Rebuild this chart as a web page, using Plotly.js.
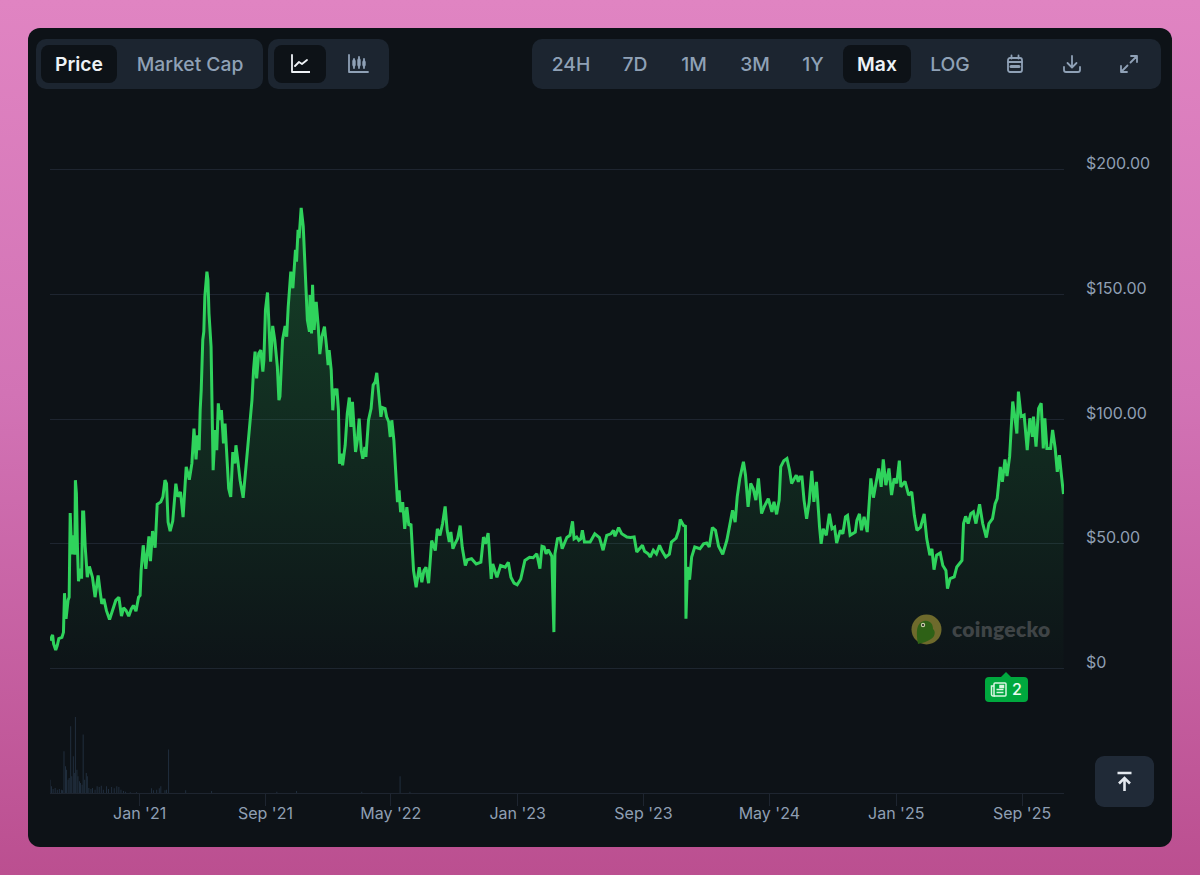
<!DOCTYPE html>
<html><head><meta charset="utf-8">
<script src="https://cdn.plot.ly/plotly-3.0.1.min.js"></script>
<style>
html,body{margin:0;padding:0;width:1200px;height:875px;overflow:hidden;font-family:Inter,"Noto Sans",sans-serif}
body{background:linear-gradient(180deg,#e084c2 0%,#d273b5 45%,#bb4f90 100%);position:relative}
#card{position:absolute;left:28px;top:28px;width:1144px;height:819px;background:#0d1217;border-radius:12px}
#plot{position:absolute;left:0;top:0;width:1200px;height:875px}
.grp{position:absolute;top:39px;height:50px;background:#1c2530;border-radius:10px}
.on{position:absolute;top:45px;height:38px;background:#0d1217;border-radius:8px}
.t{position:absolute;top:39px;height:50px;line-height:50px;font-size:19.3px;font-weight:500;color:#8fa1b6;transform:translateX(-50%);white-space:nowrap}
.t.w{color:#eef2f6;font-weight:600}
svg.i{position:absolute;fill:none;stroke:#8fa1b6;stroke-width:1.8;stroke-linecap:round;stroke-linejoin:round}
#mark{position:absolute;left:952px;top:616px;font:800 21px Lato,Inter,sans-serif;color:#3f4446;letter-spacing:.3px}
#badge{position:absolute;left:985px;top:677px;width:43px;height:25px;background:#00a83e;border-radius:4px}
#top{position:absolute;left:1095px;top:756px;width:59px;height:51px;background:#202a37;border-radius:9px}
</style></head><body>
<div id="card"></div>
<div id="plot"></div>

<div class="grp" style="left:36px;width:227px"></div>
<div class="on" style="left:41px;width:76px"></div>
<div class="t w" style="left:79px">Price</div>
<div class="t" style="left:190px">Market Cap</div>
<div class="grp" style="left:268px;width:121px"></div>
<div class="on" style="left:274px;width:52px"></div>
<svg class="i" style="left:290px;top:54px;stroke:#eef2f6" width="20" height="20" viewBox="0 0 20 20"><path d="M2 1v17h18M5 12l4-4 3 2 5-4"/></svg>
<svg class="i" style="left:347px;top:54px" width="22" height="20" viewBox="0 0 22 20"><path d="M2 1v17h19M7 5v9M12 3v11M17 5v9"/><path d="M7 7v4M12 6v5M17 8v3" stroke-width="3.4"/></svg>
<div class="grp" style="left:532px;width:629px"></div>
<div class="on" style="left:843px;width:68px"></div>
<div class="t" style="left:571px">24H</div>
<div class="t" style="left:635px">7D</div>
<div class="t" style="left:694px">1M</div>
<div class="t" style="left:755px">3M</div>
<div class="t" style="left:813px">1Y</div>
<div class="t w" style="left:877px">Max</div>
<div class="t" style="left:950px">LOG</div>
<svg class="i" style="left:1005px;top:54px" width="20" height="20" viewBox="0 0 20 20"><rect x="3" y="4" width="14" height="14" rx="2"/><path d="M6.5 1.5v3M13.5 1.5v3M3 8h14"/><path d="M6 12.5h8" stroke-width="3"/></svg>
<svg class="i" style="left:1062px;top:54px" width="20" height="20" viewBox="0 0 20 20"><path d="M10 2v11M5.5 9l4.5 4.5L14.500 9M2 13v3a2 2 0 0 0 2 2h12a2 2 0 0 0 2-2v-3"/></svg>
<svg class="i" style="left:1119px;top:54px" width="20" height="20" viewBox="0 0 20 20"><path d="M12 2h6v6M18 2l-6.500 6.500M2 12v6h6M2 18l6.500-6.500"/></svg>

<svg style="position:absolute;left:911px;top:614px" width="31" height="31" viewBox="0 0 31 31"><circle cx="15.500" cy="15.500" r="15" fill="#6e6a2c"/><path d="M7 30C5 18 5 9 13 7c6-1 9 3 9 8 3 2 2 8-2 10-3 2-8 4-13 5z" fill="#2e6116"/><circle cx="12" cy="11" r="2.200" fill="#c9cfa9"/><circle cx="12" cy="11" r="1.100" fill="#222"/></svg>
<div id="mark">coingecko</div>
<svg style="position:absolute;left:1000px;top:672px" width="12" height="6" viewBox="0 0 12 6"><path d="M0 6L6 0l6 6z" fill="#00a83e"/></svg>
<div id="badge"><svg style="position:absolute;left:5px;top:5px" width="17" height="15" viewBox="0 0 17 15" fill="none" stroke="#d9f5e2" stroke-width="1.500"><rect x="4" y="1" width="12" height="13" rx="1"/><path d="M4 4H1.500v8.500A1.500 1.500 0 0 0 3 14h2M6.500 7.500h7M6.500 10.500h7"/><rect x="10" y="3.500" width="3.500" height="2" fill="#d9f5e2"/></svg><div style="position:absolute;left:27px;top:0;line-height:25px;font-size:16px;font-weight:500;color:#eafbf0">2</div></div>
<div id="top"><svg style="position:absolute;left:20px;top:15px" width="19" height="21" viewBox="0 0 19 21" fill="none" stroke="#e4e9ef" stroke-width="2.600"><path d="M2.500 2h14M9.500 20V7.500M4 12.500l5.500-5.500 5.500 5.500"/></svg></div>

<script>
// days since 12 Jul 2020 for each price reading
var firstDate = Date.UTC(2020, 6, 12);
var priceDays = [0,2,5,7,11,14,17,23,26,28,31,35,37,39,42,45,48,49,51,53,55,59,61,63,65,68,72,76,79,82,87,90,93,97,100,104,109,115,121,127,133,138,142,147,152,157,161,166,171,174,176,180,185,191,194,198,203,207,214,218,222,225,228,232,237,243,247,252,257,263,269,274,278,282,285,288,290,292,295,297,299,303,305,307,311,313,315,319,322,325,328,331,335,338,341,345,349,353,357,359,363,367,373,379,384,387,390,393,396,399,403,407,411,413,416,420,423,426,430,434,439,442,444,449,454,457,460,465,469,474,476,479,481,485,489,492,495,497,501,502,505,507,510,514,518,521,525,530,534,537,539,543,546,549,552,554,557,559,563,565,570,574,578,581,584,587,590,594,597,601,604,608,610,615,620,624,628,631,635,639,642,647,650,654,657,660,664,667,669,671,674,677,681,685,689,693,697,699,702,707,713,718,722,726,731,737,744,748,753,758,763,767,771,774,778,782,787,792,796,802,806,814,823,832,837,841,846,848,852,855,863,870,879,885,890,896,902,909,917,926,933,940,946,950,954,958,962,969,973,975,980,985,989,998,1004,1009,1012,1017,1021,1025,1028,1032,1043,1052,1061,1068,1075,1083,1088,1091,1098,1104,1114,1121,1128,1133,1139,1144,1148,1155,1159,1165,1171,1177,1182,1189,1196,1200,1209,1214,1217,1223,1227,1228,1231,1235,1239,1245,1255,1262,1268,1273,1279,1285,1291,1299,1307,1313,1318,1323,1327,1332,1339,1343,1348,1353,1358,1363,1368,1374,1379,1387,1394,1398,1403,1408,1411,1417,1423,1428,1432,1441,1445,1448,1452,1456,1461,1466,1471,1475,1480,1486,1489,1493,1499,1505,1510,1515,1519,1526,1531,1536,1540,1545,1555,1558,1563,1567,1572,1578,1582,1585,1590,1595,1600,1605,1609,1614,1620,1625,1630,1635,1640,1643,1651,1658,1664,1669,1674,1681,1688,1693,1699,1703,1707,1712,1719,1724,1730,1733,1738,1746,1751,1761,1764,1768,1773,1778,1783,1788,1795,1801,1808,1813,1820,1825,1829,1835,1839,1844,1848,1853,1856,1859,1863,1867,1870,1875,1881,1887,1892,1897,1899,1904,1909,1914,1918,1921,1925,1932,1936,1941,1945,1949,1953,1957];
var prices = [11.2,12.3,13.5,9.9,7.4,9.2,12,12.5,14.5,30.2,19.9,27.5,28.6,62.3,45.7,53.4,45.7,75.5,70.1,48.7,35,40,36,62.7,62.7,48.7,36.6,40.9,38.6,36.6,28.6,32.6,37.3,30.6,25.9,27.9,23.2,19.6,23.2,27.3,28.6,21,24.3,23.2,21,23.9,25.3,23,28.6,29.3,39.3,49.4,40,53,43,55.1,48.4,65.8,66.8,68.8,75.5,74.1,58.7,55.1,59.1,74.1,68.8,70.8,60.7,80.8,75.7,82.2,96.2,83.8,93.5,87.5,103.6,111.6,131.7,135,149.1,159.1,155.8,142.4,129,108.9,79.5,95.6,87.5,106.3,99.6,103.6,90.2,98.2,86.8,72.1,68.8,86.8,82.2,89.5,82.8,75.5,68.4,82.2,95.6,99.6,107.6,119.6,127,116.3,126.3,127.6,119,123.6,143.7,150.7,134.3,123,137.3,131.7,121,107.6,109,131.7,137.3,133,145,159.1,152.4,167.8,163.1,175.8,172.5,184.6,177.2,163.8,145,139.7,135,149.7,134.3,153.8,135.7,147,137,126,133,137,129,121.6,127.6,119.6,103.5,112.2,109.6,112.2,103.5,82.1,86.1,81.4,89.5,102.2,108.6,96.8,106.9,95.5,86.8,92.2,100.2,87.5,84.1,88.8,84.8,99.5,104.2,113.6,114.9,118.5,110.2,100.9,104.6,104.2,100.9,98.9,92.8,99.5,91.5,82.1,72.7,66.7,71.4,62.7,66.7,56,64.7,57.3,58,50,39.3,32.6,40.6,34.6,39.3,40.6,34.2,51.3,47.3,56,53.3,58,65,55.3,50.7,54.7,48,50,52,57.3,48.6,41.3,43.6,44,41.9,42.6,52.7,50,54.3,48.6,35.9,41.9,36.6,41.3,40.6,42.6,36.6,34.2,33.6,35.9,43.3,44.6,44.4,46,40,49,48.7,46,47.6,45,14.6,46,52,52.3,48,52.5,53.4,59,52,52.7,51.4,52,55.4,50.7,50.7,54,52.5,47.4,53.4,54,55.4,53,56.5,54,52.7,52.5,52.7,46.7,48,49.4,47,46,44.7,47.4,46,49.4,47.1,44.7,45.8,50.7,52.3,55.4,59.7,57.4,57,20,40.7,35.6,44.7,48.7,48,50,50.3,48.7,56.5,55.4,49,45.8,51.4,58.1,63.4,58.7,68.8,76.2,82.9,77.5,64.8,74.2,72.1,67.5,76.2,62.1,64.8,68.1,62.8,66.8,61.8,67.5,80.8,83.3,84.2,79.5,74.2,77.5,74.8,76.8,76.8,67.5,60,66.8,79.2,66.8,74.8,56.7,50,56,53.4,62,56,56.7,50.3,55.4,54,60.8,61.4,53.4,54.7,59.4,62,55.4,60.8,54.7,65.5,76.2,68.5,74.2,80.2,72.8,83.8,73.5,80.2,69.5,76.2,74.2,83.3,72.8,75,69.5,70.8,61.4,55.4,56.7,62,52,45.4,48,39.6,45.4,46.3,41.3,39.3,32,36,36.7,40.7,43.3,58.1,61,58.1,62.1,62.8,58.1,65.8,58.1,52.5,58.1,60.1,66.1,68.1,80.8,74.8,83.8,77.1,84.9,96.9,107,101,94.2,111,101,101.6,87.5,100.3,92.9,101,88.9,104.3,106.3,88.2,100.3,88.2,88.2,95.6,88.2,78.8,85.5,77.5,69.9];
var volumeDays = [0,3,6,10,14,18,22,24,27,30,32,35,37,40,42,45,47,49,52,54,57,59,62,64,67,70,72,75,79,82,87,91,95,99,103,109,113,119,124,129,133,137,142,146,155,167,196,200,206,211,214,222,225,229,262,312,438,476,602,676,695];
var volumes = [133,67,40,50,33,40,33,27,416,266,233,133,150,666,167,366,200,759,233,167,117,100,83,583,133,200,167,50,40,50,33,67,60,73,33,67,40,60,47,67,60,33,20,13,7,7,47,27,33,47,67,27,33,433,27,20,13,20,13,167,13];
var xTickDates = ['2021-01-01','2021-09-01','2022-05-01','2023-01-01','2023-09-01','2024-05-01','2025-01-01','2025-09-01'];
var xTickLabels = ["Jan '21","Sep '21","May '22","Jan '23","Sep '23","May '24","Jan '25","Sep '25"];
var yTickValues = [0,50,100,150,200];
var yTickLabels = ['$0','$50.00','$100.00','$150.00','$200.00'];

function toDate(d){ return new Date(firstDate + d*864e5).toISOString().slice(0,10); }
var grid = '#1e2530', label = '#8f9fb3';
var priceDomain = [0.1616, 0.9177], priceRange = [-5, 205], labelLift = 2.4;

Plotly.newPlot('plot', [
  {type:'scatter', mode:'lines', x:priceDays.map(toDate), y:prices, xaxis:'x', yaxis:'y',
   line:{color:'#2fd35c', width:3, shape:'linear'}, fill:'tozeroy',
   fillgradient:{type:'vertical', start:0, stop:180,
     colorscale:[[0,'rgba(47,211,92,0.01)'],[1,'rgba(47,211,92,0.24)']]},
   hoverinfo:'skip'},
  {type:'bar', x:volumeDays.map(toDate), y:volumes, xaxis:'x', yaxis:'y2',
   width:1.8*864e5, marker:{color:'#223040', line:{width:0}}, hoverinfo:'skip'},
  {type:'scatter', mode:'none', x:[toDate(0)], y:[null], xaxis:'x', yaxis:'y3', hoverinfo:'skip'}
], {
  width:1200, height:875, showlegend:false, hovermode:false,
  paper_bgcolor:'rgba(0,0,0,0)', plot_bgcolor:'rgba(0,0,0,0)',
  margin:{l:50, r:136, t:100, b:82, pad:0},
  font:{family:'Inter, "Noto Sans", sans-serif', size:16, color:label},
  xaxis:{type:'date', anchor:'y2', range:[toDate(0),toDate(1958)], tickmode:'array',
    tickvals:xTickDates, ticktext:xTickLabels, ticks:'outside', ticklen:12, tickwidth:1, tickcolor:grid,
    showgrid:false, showline:true, linecolor:grid, linewidth:1, zeroline:false,
    ticklabelstandoff:-6, tickfont:{size:16,color:label}},
  yaxis:{domain:priceDomain, range:priceRange, anchor:'x', side:'right', tickmode:'array',
    tickvals:yTickValues, showticklabels:false, ticks:'', gridcolor:grid, gridwidth:1, zeroline:false, showline:false},
  yaxis2:{domain:[0,0.12], range:[0,830], anchor:'x', visible:false},
  yaxis3:{overlaying:'y', range:[priceRange[0]-labelLift,priceRange[1]-labelLift], anchor:'x', side:'right', tickmode:'array',
    tickvals:yTickValues, ticktext:yTickLabels, ticks:'', showgrid:false, zeroline:false, showline:false,
    ticklabelstandoff:21, tickfont:{size:16,color:label}}
}, {displayModeBar:false, staticPlot:true});
</script>
</body></html>
